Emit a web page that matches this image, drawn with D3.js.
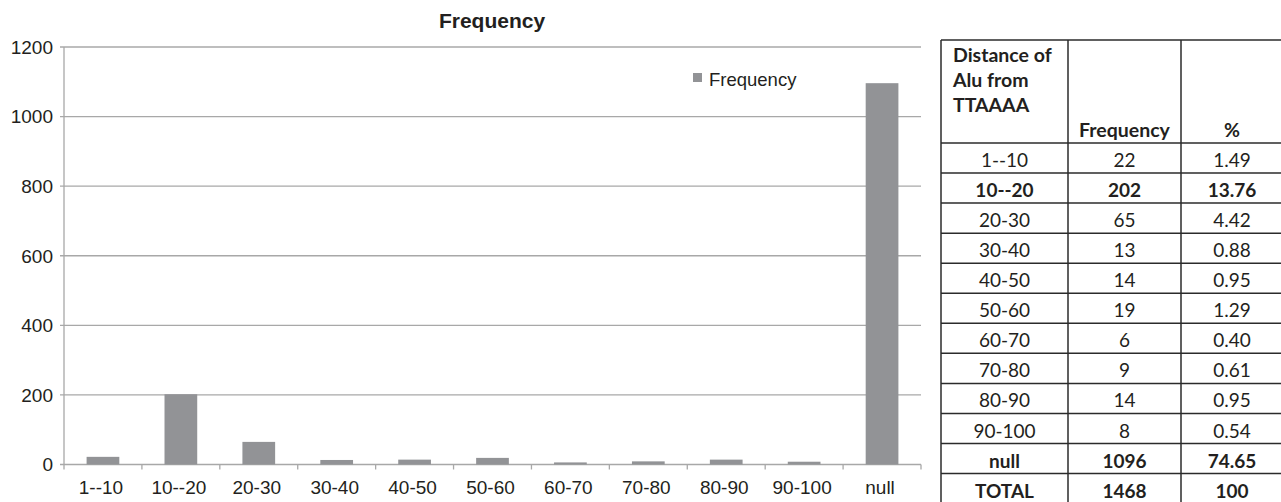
<!DOCTYPE html>
<html lang="en">
<head>
<meta charset="utf-8">
<script src="https://d3js.org/d3.v7.min.js"></script>
<style>
  body { margin: 0; background: #fff; }
</style>
</head>
<body>
<div id="my_dataviz"></div>
<script>

// chart data
var categories = ["1--10", "10--20", "20-30", "30-40", "40-50", "50-60", "60-70", "70-80", "80-90", "90-100", "null"];
var frequency = [22, 202, 65, 13, 14, 19, 6, 9, 14, 8, 1096];
var yTicks = [0, 200, 400, 600, 800, 1000, 1200];

// table data
var tableHeader = ["Distance of Alu from TTAAAA", "Frequency", "%"];
var tableLabels = ["1--10", "10--20", "20-30", "30-40", "40-50", "50-60", "60-70", "70-80", "80-90", "90-100", "null", "TOTAL"];
var tableFreq = ["22", "202", "65", "13", "14", "19", "6", "9", "14", "8", "1096", "1468"];
var tablePct = ["1.49", "13.76", "4.42", "0.88", "0.95", "1.29", "0.40", "0.61", "0.95", "0.54", "74.65", "100"];
var boldRows = ["10--20", "null", "TOTAL"];

var W = 1281, H = 502;
var svg = d3.select("#my_dataviz")
  .append("svg")
    .attr("width", W)
    .attr("height", H);

var plotLeft = 64, plotRight = 921, plotTop = 47, plotBottom = 464.5;
var grid = "#a8a8a8";
var barColor = "#929396";
var chartFont = "'Liberation Sans', Arial, sans-serif";

// scales
var x = d3.scaleBand()
  .domain(categories)
  .range([plotLeft, plotRight])
  .paddingInner(0.58)
  .paddingOuter(0.29);
var xb = d3.scaleBand()
  .domain(categories)
  .range([plotLeft, plotRight]);
var y = d3.scaleLinear()
  .domain([0, 1200])
  .range([plotBottom, plotTop]);

// gridlines
svg.append("g")
  .selectAll("line")
  .data(yTicks)
  .enter()
  .append("line")
    .attr("x1", plotLeft - 4)
    .attr("x2", plotRight)
    .attr("y1", function(d) { return y(d); })
    .attr("y2", function(d) { return y(d); })
    .attr("stroke", grid)
    .attr("stroke-width", 1.3);

// y axis line
svg.append("line")
  .attr("x1", plotLeft).attr("x2", plotLeft)
  .attr("y1", plotTop).attr("y2", plotBottom)
  .attr("stroke", grid).attr("stroke-width", 1.3);

// y labels
svg.append("g")
  .selectAll("text")
  .data(yTicks)
  .enter()
  .append("text")
    .attr("x", plotLeft - 11)
    .attr("y", function(d) { return y(d); })
    .attr("dy", "0.36em")
    .attr("text-anchor", "end")
    .style("font-family", chartFont)
    .style("font-size", "19px")
    .style("fill", "#231f20")
    .text(function(d) { return d; });

// x axis ticks at band boundaries
var bounds = categories.map(function(c) { return xb(c); }).concat([plotRight]);
svg.append("g")
  .selectAll("line")
  .data(bounds)
  .enter()
  .append("line")
    .attr("x1", function(d) { return d; })
    .attr("x2", function(d) { return d; })
    .attr("y1", plotBottom)
    .attr("y2", plotBottom + 5)
    .attr("stroke", grid)
    .attr("stroke-width", 1.3);

// x labels
svg.append("g")
  .selectAll("text")
  .data(categories)
  .enter()
  .append("text")
    .attr("x", function(d) { return xb(d) + xb.bandwidth() / 2 - 2; })
    .attr("y", 494)
    .attr("text-anchor", "middle")
    .style("font-family", chartFont)
    .style("font-size", "19px")
    .style("fill", "#231f20")
    .text(function(d) { return d; });

// bars
svg.append("g")
  .selectAll("rect")
  .data(categories)
  .enter()
  .append("rect")
    .attr("x", function(d) { return x(d); })
    .attr("width", x.bandwidth())
    .attr("y", function(d, i) { return y(frequency[i]); })
    .attr("height", function(d, i) { return plotBottom - y(frequency[i]); })
    .style("fill", barColor);

// title
svg.append("text")
  .attr("x", 492)
  .attr("y", 28)
  .attr("text-anchor", "middle")
  .style("font-family", chartFont)
  .style("font-size", "21px")
  .style("font-weight", "bold")
  .style("fill", "#231f20")
  .text("Frequency");

// legend
svg.append("rect")
  .attr("x", 693).attr("y", 73)
  .attr("width", 9).attr("height", 9)
  .style("fill", barColor);
svg.append("text")
  .attr("x", 709).attr("y", 86)
  .style("font-family", chartFont)
  .style("font-size", "18.5px")
  .style("fill", "#231f20")
  .text("Frequency");

// ---- table ----
var tx = [941, 1068, 1181, 1283];
var tTop = 40, headBottom = 143, rowH = 30.05;
var tfont = "Lato, 'Open Sans', sans-serif";
var tcolor = "#231f20";
var tg = svg.append("g");

// horizontal lines
var hLines = [tTop, headBottom].concat(tableLabels.map(function(d, i) { return headBottom + (i + 1) * rowH; }));
tg.selectAll("line.h")
  .data(hLines)
  .enter()
  .append("line")
    .attr("class", "h")
    .attr("x1", tx[0]).attr("x2", tx[3])
    .attr("y1", function(d) { return d; })
    .attr("y2", function(d) { return d; })
    .attr("stroke", "#2b2b2b")
    .attr("stroke-width", 1.5);

// vertical lines
tg.selectAll("line.v")
  .data(tx)
  .enter()
  .append("line")
    .attr("class", "v")
    .attr("x1", function(d) { return d; })
    .attr("x2", function(d) { return d; })
    .attr("y1", tTop)
    .attr("y2", H + 5)
    .attr("stroke", "#2b2b2b")
    .attr("stroke-width", 1.5);

// header
var headLines = ["Distance of", "Alu from", "TTAAAA"];
tg.selectAll("text.head")
  .data(headLines)
  .enter()
  .append("text")
    .attr("class", "head")
    .attr("x", 953)
    .attr("y", function(d, i) { return 62 + i * 25; })
    .style("font-family", tfont)
    .style("font-size", "19.5px")
    .style("font-weight", "bold")
    .style("fill", tcolor)
    .text(function(d) { return d; });
tg.selectAll("text.head2")
  .data(tableHeader.slice(1))
  .enter()
  .append("text")
    .attr("class", "head2")
    .attr("x", function(d, i) { return (tx[i + 1] + tx[i + 2]) / 2; })
    .attr("y", 137)
    .attr("text-anchor", "middle")
    .style("font-family", tfont)
    .style("font-size", "19.5px")
    .style("font-weight", "bold")
    .style("fill", tcolor)
    .text(function(d) { return d; });

// body rows
var cols = [tableLabels, tableFreq, tablePct];
cols.forEach(function(col, c) {
  tg.append("g")
    .selectAll("text")
    .data(col)
    .enter()
    .append("text")
      .attr("x", (tx[c] + tx[c + 1]) / 2)
      .attr("y", function(d, i) { return headBottom + (i + 1) * rowH - 6; })
      .attr("text-anchor", "middle")
      .style("font-family", tfont)
      .style("font-size", "19px")
      .style("font-weight", function(d, i) { return boldRows.indexOf(tableLabels[i]) >= 0 ? "bold" : "normal"; })
      .style("fill", tcolor)
      .text(function(d) { return d; });
});

</script>
</body>
</html>
